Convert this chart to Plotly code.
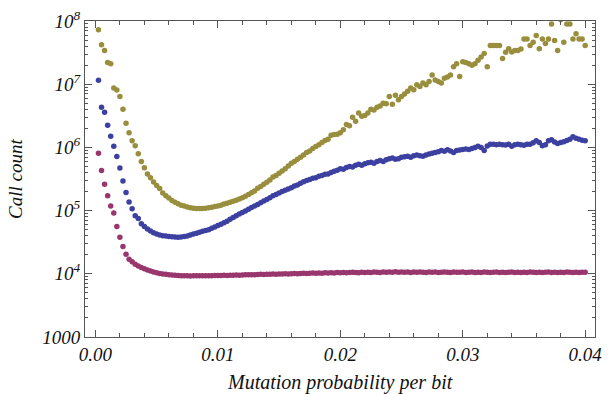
import plotly.graph_objects as go

# sampling grid of mutation probability (0.00025 .. 0.04)
step = 0.00025
mutation_prob = [round(step * i, 5) for i in range(1, 161)]

olive_counts = [
    7.3e7, 4.2e7, 3.4e7, 2.2e7, 2.1e7, 8.7e6, 8.1e6, 6.4e6, 4.0e6, 2.4e6,
    1.7e6, 1.27e6, 1.06e6, 7.9e5, 6.0e5, 4.75e5, 3.8e5, 3.3e5, 2.84e5, 2.5e5,
    2.24e5, 1.9e5, 1.72e5, 1.58e5, 1.45e5, 1.36e5, 1.28e5, 1.22e5, 1.18e5, 1.14e5,
    1.11e5, 1.09e5, 1.08e5, 1.08e5, 1.08e5, 1.09e5, 1.11e5, 1.13e5, 1.16e5, 1.18e5,
    1.22e5, 1.27e5, 1.31e5, 1.36e5, 1.41e5, 1.46e5, 1.52e5, 1.6e5, 1.68e5, 1.8e5,
    1.92e5, 2.05e5, 2.25e5, 2.4e5, 2.6e5, 2.8e5, 3.05e5, 3.4e5, 3.6e5, 3.9e5,
    4.25e5, 4.6e5, 5.1e5, 5.6e5, 6.0e5, 6.5e5, 7.0e5, 7.6e5, 8.3e5, 8.8e5,
    9.6e5, 1.03e6, 1.1e6, 1.2e6, 1.28e6, 1.35e6, 1.55e6, 1.6e6, 1.62e6, 1.7e6,
    1.9e6, 2.3e6, 2.2e6, 3.0e6, 2.6e6, 3.5e6, 3.1e6, 3.2e6, 3.5e6, 4.0e6,
    3.9e6, 4.3e6, 4.5e6, 5.0e6, 4.9e6, 6.4e6, 4.8e6, 6.7e6, 5.7e6, 6.4e6,
    7.0e6, 7.7e6, 8.7e6, 8.2e6, 9.8e6, 9.2e6, 1.04e7, 9.8e6, 1.1e7, 1.4e7,
    1.17e7, 1.1e7, 1.04e7, 1.24e7, 1.3e7, 1.4e7, 1.89e7, 2.1e7, 1.32e7, 2.27e7,
    2.2e7, 2.1e7, 2.0e7, 2.1e7, 2.4e7, 2.7e7, 3.05e7, 1.89e7, 4.1e7, 4.1e7,
    4.1e7, 4.1e7, 2.55e7, 3.2e7, 3.65e7, 3.24e7, 3.4e7, 3.4e7, 3.6e7, 5.2e7,
    5.2e7, 4.1e7, 4.6e7, 5.9e7, 3.65e7, 5.2e7, 4.4e7, 5.2e7, 9.0e7, 4.9e7,
    3.4e7, 1.05e8, 4.6e7, 9.0e7, 9.0e7, 5.2e7, 6.3e7, 5.2e7, 5.2e7, 4.1e7,
]

blue_counts = [
    1.15e7, 4.3e6, 3.6e6, 2.24e6, 1.5e6, 1.04e6, 7.2e5, 4.7e5, 2.95e5, 1.93e5,
    1.37e5, 1.07e5, 8.3e4, 7.5e4, 6.2e4, 5.6e4, 5.1e4, 4.75e4, 4.45e4, 4.25e4,
    4.1e4, 4.0e4, 3.95e4, 3.9e4, 3.85e4, 3.82e4, 3.8e4, 3.82e4, 3.88e4, 3.95e4,
    4.1e4, 4.25e4, 4.4e4, 4.55e4, 4.7e4, 4.85e4, 5.0e4, 5.25e4, 5.5e4, 5.8e4,
    6.1e4, 6.45e4, 6.8e4, 7.3e4, 7.8e4, 8.3e4, 8.8e4, 9.3e4, 9.9e4, 1.05e5,
    1.12e5, 1.18e5, 1.25e5, 1.33e5, 1.42e5, 1.5e5, 1.6e5, 1.72e5, 1.8e5, 1.9e5,
    2.0e5, 2.1e5, 2.2e5, 2.3e5, 2.45e5, 2.55e5, 2.7e5, 2.85e5, 3.0e5, 3.1e5,
    3.25e5, 3.3e5, 3.5e5, 3.6e5, 3.75e5, 3.8e5, 4.0e5, 4.2e5, 4.35e5, 4.6e5,
    4.5e5, 4.8e5, 5.0e5, 4.9e5, 5.2e5, 5.4e5, 5.2e5, 5.5e5, 5.7e5, 5.8e5,
    5.6e5, 6.0e5, 6.2e5, 6.0e5, 6.4e5, 6.6e5, 6.8e5, 6.5e5, 6.6e5, 7.0e5,
    7.1e5, 7.25e5, 7.0e5, 7.4e5, 7.6e5, 7.4e5, 7.25e5, 7.6e5, 7.85e5, 8.1e5,
    8.3e5, 8.5e5, 8.9e5, 8.7e5, 9.2e5, 8.8e5, 8.3e5, 8.9e5, 9.1e5, 9.3e5,
    9.4e5, 9.3e5, 9.6e5, 1.0e6, 1.04e6, 1.0e6, 8.9e5, 1.05e6, 1.12e6, 1.12e6,
    1.1e6, 1.12e6, 1.1e6, 1.09e6, 1.12e6, 1.04e6, 1.1e6, 1.12e6, 1.1e6, 1.08e6,
    1.12e6, 1.12e6, 1.18e6, 1.27e6, 1.2e6, 1.06e6, 1.1e6, 1.27e6, 1.32e6, 1.22e6,
    1.15e6, 1.2e6, 1.23e6, 1.28e6, 1.35e6, 1.48e6, 1.4e6, 1.35e6, 1.3e6, 1.27e6,
]

magenta_counts = [
    8.1e5, 4.3e5, 2.6e5, 1.71e5, 1.18e5, 9.2e4, 5.6e4, 3.8e4, 2.7e4, 2.03e4,
    1.7e4, 1.55e4, 1.42e4, 1.33e4, 1.26e4, 1.2e4, 1.15e4, 1.11e4, 1.07e4, 1.04e4,
    1.01e4, 9.9e3, 9.8e3, 9.65e3, 9.55e3, 9.45e3, 9.4e3, 9.35e3, 9.3e3, 9.3e3,
    9.25e3, 9.3e3, 9.28e3, 9.3e3, 9.32e3, 9.3e3, 9.35e3, 9.33e3, 9.38e3, 9.4e3,
    9.42e3, 9.45e3, 9.4e3, 9.5e3, 9.52e3, 9.55e3, 9.5e3, 9.6e3, 9.62e3, 9.65e3,
    9.7e3, 9.68e3, 9.75e3, 9.8e3, 9.78e3, 9.85e3, 9.82e3, 9.9e3, 9.88e3, 9.95e3,
    9.9e3, 1.0e4, 9.95e3, 1.0e4, 1.01e4, 1.0e4, 1.01e4, 1.02e4, 1.01e4, 1.02e4,
    1.03e4, 1.02e4, 1.03e4, 1.02e4, 1.04e4, 1.03e4, 1.04e4, 1.03e4, 1.05e4, 1.04e4,
    1.05e4, 1.04e4, 1.05e4, 1.06e4, 1.05e4, 1.04e4, 1.06e4, 1.05e4, 1.06e4, 1.05e4,
    1.07e4, 1.06e4, 1.05e4, 1.07e4, 1.06e4, 1.07e4, 1.06e4, 1.08e4, 1.06e4, 1.07e4,
    1.06e4, 1.07e4, 1.05e4, 1.07e4, 1.06e4, 1.07e4, 1.06e4, 1.05e4, 1.07e4, 1.06e4,
    1.07e4, 1.05e4, 1.06e4, 1.07e4, 1.06e4, 1.05e4, 1.07e4, 1.06e4, 1.06e4, 1.07e4,
    1.05e4, 1.06e4, 1.07e4, 1.05e4, 1.06e4, 1.05e4, 1.07e4, 1.06e4, 1.05e4, 1.06e4,
    1.07e4, 1.05e4, 1.06e4, 1.05e4, 1.06e4, 1.07e4, 1.05e4, 1.06e4, 1.05e4, 1.06e4,
    1.05e4, 1.07e4, 1.06e4, 1.05e4, 1.06e4, 1.05e4, 1.06e4, 1.07e4, 1.05e4, 1.06e4,
    1.05e4, 1.06e4, 1.05e4, 1.07e4, 1.06e4, 1.05e4, 1.06e4, 1.05e4, 1.06e4, 1.06e4,
]

x_tick_vals = [0.0, 0.01, 0.02, 0.03, 0.04]
x_tick_text = ["0.00", "0.01", "0.02", "0.03", "0.04"]
x_minor_vals = [0.002, 0.004, 0.006, 0.008, 0.012, 0.014, 0.016, 0.018,
                0.022, 0.024, 0.026, 0.028, 0.032, 0.034, 0.036, 0.038]
y_tick_vals = [1e3, 1e4, 1e5, 1e6, 1e7, 1e8]
y_tick_text = ["1000", "10<sup>4</sup>", "10<sup>5</sup>", "10<sup>6</sup>",
               "10<sup>7</sup>", "10<sup>8</sup>"]
y_minor_vals = [m * 10 ** e for e in range(3, 8) for m in range(2, 10)]

series = [
    (olive_counts, "#998e3d"),
    (blue_counts, "#3c40a0"),
    (magenta_counts, "#99366e"),
]

FONT = "Liberation Serif"
fig = go.Figure()
for vals, col in series:
    fig.add_trace(go.Scatter(
        x=mutation_prob, y=vals, mode="markers",
        marker=dict(size=5.5, color=col, line=dict(width=0)),
        showlegend=False, hoverinfo="x+y",
    ))

frame = "#555555"
fig.update_xaxes(
    range=[-0.00085, 0.0408], showgrid=False, zeroline=False,
    showline=True, linecolor=frame, linewidth=1, mirror="allticks",
    ticks="inside", ticklen=7, tickwidth=1, tickcolor=frame,
    tickvals=x_tick_vals, ticktext=["<i>%s</i>" % t for t in x_tick_text],
    tickfont=dict(family=FONT, size=19, color="#111"),
    minor=dict(tickvals=x_minor_vals, ticks="inside", ticklen=4,
               tickwidth=1, tickcolor=frame, showgrid=False),
)
fig.update_yaxes(
    type="log", range=[3, 8], showgrid=False, zeroline=False,
    showline=True, linecolor=frame, linewidth=1, mirror="allticks",
    ticks="inside", ticklen=7, tickwidth=1, tickcolor=frame,
    tickvals=y_tick_vals, ticktext=["<i>%s</i>" % t for t in y_tick_text],
    tickfont=dict(family=FONT, size=19, color="#111"),
    minor=dict(tickvals=y_minor_vals, ticks="inside", ticklen=3,
               tickwidth=1, tickcolor=frame, showgrid=False),
)
fig.update_layout(
    width=610, height=394,
    margin=dict(l=85, r=8, t=17, b=57),
    paper_bgcolor="white", plot_bgcolor="white",
    annotations=[
        dict(text="<i>Mutation probability per bit</i>", xref="paper", yref="paper",
             x=0.5, y=0, yshift=-45, xanchor="center", yanchor="middle",
             showarrow=False, font=dict(family=FONT, size=20, color="#111")),
        dict(text="<i>Call count</i>", xref="paper", yref="paper",
             x=0, xshift=-70, y=0.5, xanchor="center", yanchor="middle",
             textangle=-90, showarrow=False,
             font=dict(family=FONT, size=19, color="#111")),
    ],
)
fig.write_html("out.html")
